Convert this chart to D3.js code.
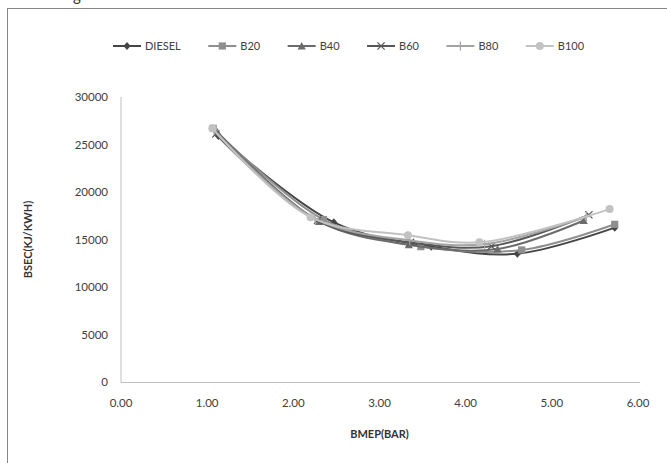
<!DOCTYPE html>
<html>
<head>
<meta charset="utf-8">
<script src="https://cdn.jsdelivr.net/npm/d3@7"></script>
<style>
  body { margin: 0; background: #fff; }
  svg { display: block; font-family: Lato, "Open Sans", sans-serif; }
</style>
</head>
<body>
<div id="chart"></div>
<script>
// valores
const seriesNames = ["DIESEL", "B20", "B40", "B60", "B80", "B100"];
const dieselX = [1.13, 2.47, 3.60, 4.60, 5.73];
const dieselY = [25900, 16800, 14250, 13500, 16250];
const b20X = [1.07, 2.35, 3.48, 4.65, 5.73];
const b20Y = [26700, 17100, 14250, 13900, 16600];
const b40X = [1.12, 2.30, 3.34, 4.37, 5.37];
const b40Y = [26300, 16900, 14450, 14000, 17000];
const b60X = [1.10, 2.28, 3.36, 4.30, 5.43];
const b60Y = [26100, 17000, 14700, 14300, 17600];
const b80X = [1.08, 2.25, 3.35, 4.22, 5.40];
const b80Y = [26500, 17200, 14900, 14500, 17400];
const b100X = [1.06, 2.20, 3.33, 4.16, 5.67];
const b100Y = [26700, 17350, 15450, 14700, 18200];
const xTicks = [0, 1, 2, 3, 4, 5, 6];
const yTicks = [0, 5000, 10000, 15000, 20000, 25000, 30000];

const allX = [dieselX, b20X, b40X, b60X, b80X, b100X];
const allY = [dieselY, b20Y, b40Y, b60Y, b80Y, b100Y];
const colors = ["#454545", "#8f8f8f", "#6b6b6b", "#575757", "#a3a3a3", "#c2c2c2"];
const shapes = ["diamond", "square", "triangle", "x", "plus", "circle"];

const W = 667, H = 463;
const margin = { top: 97, right: 29, bottom: 81, left: 121 };

const svg = d3.select("#chart").append("svg")
  .attr("width", W).attr("height", H);

// moldura do gráfico (sai da área visível)
svg.append("rect")
  .attr("x", 7.5).attr("y", 8.5)
  .attr("width", 720).attr("height", 520)
  .attr("fill", "none").attr("stroke", "#868686").attr("stroke-width", 1);

// resto do texto de cima, cortado como no original
svg.append("text").attr("x", 73).attr("y", 1)
  .style("font-size", "15px").attr("fill", "#333").text("g");

const x = d3.scaleLinear().domain([0, 6]).range([margin.left, W - margin.right]);
const y = d3.scaleLinear().domain([0, 30000]).range([H - margin.bottom, margin.top]);

// eixos
svg.append("line")
  .attr("x1", x(0)).attr("x2", x(0))
  .attr("y1", y(0) + 0.5).attr("y2", y(30000))
  .attr("stroke", "#bfbfbf");
svg.append("line")
  .attr("x1", x(0)).attr("x2", x(6) + 2)
  .attr("y1", y(0) + 0.5).attr("y2", y(0) + 0.5)
  .attr("stroke", "#bfbfbf");

svg.selectAll(".ytick").data(yTicks).enter().append("text")
  .attr("class", "ytick")
  .attr("x", x(0) - 13).attr("y", (d) => y(d))
  .attr("dy", "0.35em").attr("text-anchor", "end")
  .style("font-size", "11.5px").attr("fill", "#404040")
  .text((d) => d);

svg.selectAll(".xtick").data(xTicks).enter().append("text")
  .attr("class", "xtick")
  .attr("x", (d) => x(d)).attr("y", y(0) + 25)
  .attr("text-anchor", "middle")
  .style("font-size", "11.5px").attr("fill", "#404040")
  .text((d) => d.toFixed(2));

svg.append("text")
  .attr("x", x(3)).attr("y", y(0) + 56)
  .attr("text-anchor", "middle")
  .style("font-size", "11px").style("font-weight", "bold").attr("fill", "#333")
  .text("BMEP(BAR)");

svg.append("text")
  .attr("transform", `translate(32,${y(15000)}) rotate(-90)`)
  .attr("text-anchor", "middle")
  .style("font-size", "11px").style("font-weight", "bold").attr("fill", "#333")
  .text("BSEC(KJ/KWH)");

// marcadores
function drawMarker(g, shape, color, cx, cy) {
  const s = 3.6;
  if (shape === "diamond") {
    g.append("path").attr("d", `M${cx},${cy - s - 0.5}L${cx + s},${cy}L${cx},${cy + s + 0.5}L${cx - s},${cy}Z`).attr("fill", color);
  } else if (shape === "square") {
    g.append("rect").attr("x", cx - s).attr("y", cy - s).attr("width", 2 * s).attr("height", 2 * s).attr("fill", color);
  } else if (shape === "triangle") {
    g.append("path").attr("d", `M${cx},${cy - s - 0.5}L${cx + s + 0.5},${cy + s}L${cx - s - 0.5},${cy + s}Z`).attr("fill", color);
  } else if (shape === "x") {
    g.append("path").attr("d", `M${cx - s},${cy - s}L${cx + s},${cy + s}M${cx - s},${cy + s}L${cx + s},${cy - s}`)
      .attr("stroke", color).attr("stroke-width", 1.2);
  } else if (shape === "plus") {
    g.append("path").attr("d", `M${cx - s - 1},${cy}L${cx + s + 1},${cy}M${cx},${cy - s - 1}L${cx},${cy + s + 1}`)
      .attr("stroke", color).attr("stroke-width", 1.2);
  } else {
    g.append("circle").attr("cx", cx).attr("cy", cy).attr("r", s + 0.4).attr("fill", color);
  }
}

const line = d3.line()
  .x((d) => x(d[0])).y((d) => y(d[1]))
  .curve(d3.curveCatmullRom.alpha(0.5));

seriesNames.forEach((name, i) => {
  const pts = allX[i].map((v, k) => [v, allY[i][k]]);
  const g = svg.append("g");
  g.append("path").datum(pts)
    .attr("d", line)
    .attr("fill", "none")
    .attr("stroke", colors[i])
    .attr("stroke-width", 2);
  pts.forEach((p) => drawMarker(g, shapes[i], colors[i], x(p[0]), y(p[1])));
});

// legenda
let lx = 113;
const ly = 46;
seriesNames.forEach((name, i) => {
  const g = svg.append("g");
  g.append("line").attr("x1", lx).attr("x2", lx + 28)
    .attr("y1", ly).attr("y2", ly)
    .attr("stroke", colors[i]).attr("stroke-width", 2);
  drawMarker(g, shapes[i], colors[i], lx + 14, ly);
  const t = g.append("text").attr("x", lx + 32).attr("y", ly)
    .attr("dy", "0.35em")
    .style("font-size", "11px").attr("fill", "#404040")
    .text(name);
  lx += 32 + t.node().getComputedTextLength() + 27.5;
});
</script>
</body>
</html>
